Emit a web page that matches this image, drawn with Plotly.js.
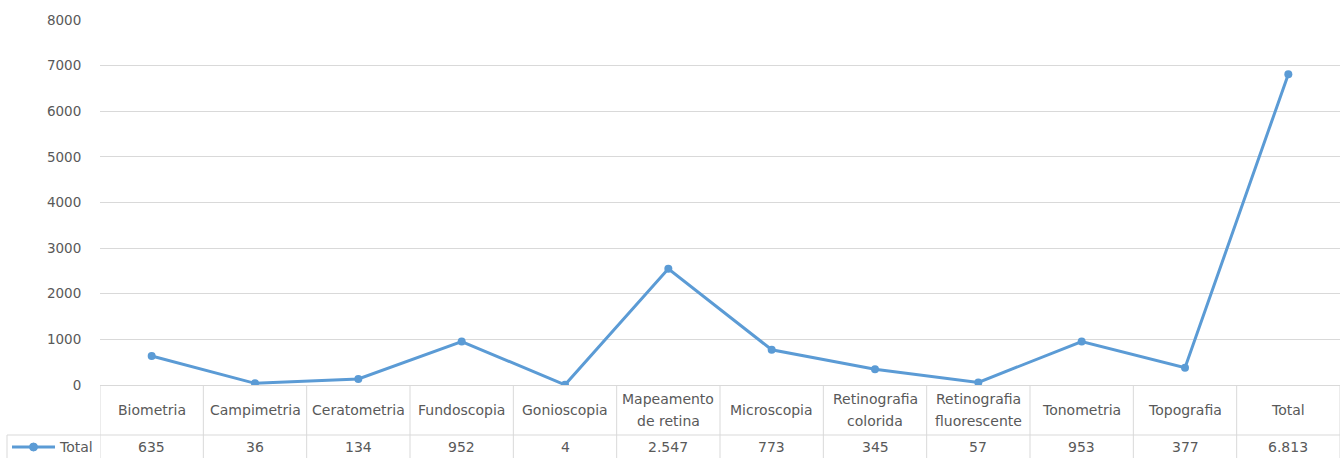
<!DOCTYPE html>
<html>
<head>
<meta charset="utf-8">
<script src="https://cdn.plot.ly/plotly-3.0.1.min.js"></script>
<style>html,body{margin:0;padding:0;background:#fff;}#chart{width:1341px;height:458px;}</style>
</head>
<body>
<div id="chart"></div>
<script>
const categories = ["Biometria","Campimetria","Ceratometria","Fundoscopia","Gonioscopia","Mapeamento de retina","Microscopia","Retinografia colorida","Retinografia fluorescente","Tonometria","Topografia","Total"];
const categoryLines = [["Biometria"],["Campimetria"],["Ceratometria"],["Fundoscopia"],["Gonioscopia"],["Mapeamento","de retina"],["Microscopia"],["Retinografia","colorida"],["Retinografia","fluorescente"],["Tonometria"],["Topografia"],["Total"]];
const totals = [635, 36, 134, 952, 4, 2547, 773, 345, 57, 953, 377, 6813];
const seriesName = "Total";
const yTicks = [0,1000,2000,3000,4000,5000,6000,7000,8000];

function fmt(v){ return String(v).replace(/\B(?=(\d{3})+(?!\d))/g, "."); }

const W = 1341, H = 458;
const mL = 100, mR = 1, mT = 20, mB = 73;
const plotW = W - mL - mR;
const plotH = H - mT - mB;
const py = px => -px / plotH;          // px below plot bottom -> paper y
const pxX = px => (px - mL) / plotW;   // absolute px -> paper x

const gray = "#595959";
const lineCol = "#d9d9d9";
const blue = "#5b9bd5";
const font = "DejaVu Sans, Verdana, sans-serif";
const fs = 14;

const shapes = [];
const n = categories.length;
for (let i = 0; i <= n; i++) {
  shapes.push({type:"line", xref:"x", yref:"paper", x0:i-0.5, x1:i-0.5, y0:0, y1:py(73), line:{color:lineCol,width:1}});
}
shapes.push({type:"line", xref:"paper", yref:"paper", x0:pxX(7), x1:1, y0:py(50), y1:py(50), line:{color:lineCol,width:1}});
shapes.push({type:"line", xref:"paper", yref:"paper", x0:pxX(7), x1:pxX(7), y0:py(50), y1:py(73), line:{color:lineCol,width:1}});
// legend key: line + marker
shapes.push({type:"line", xref:"paper", yref:"paper", x0:pxX(12), x1:pxX(55), y0:py(62), y1:py(62), line:{color:blue,width:3}});
shapes.push({type:"circle", xref:"paper", yref:"paper", xsizemode:"pixel", ysizemode:"pixel",
  xanchor:pxX(33.5), yanchor:py(62), x0:-4, x1:4, y0:-4, y1:4, fillcolor:blue, line:{color:blue,width:1}});

const annotations = [];
annotations.push({xref:"paper", yref:"paper", x:pxX(57), y:py(62), text:seriesName, showarrow:false,
  font:{family:font, size:fs, color:gray}, xanchor:"left", yanchor:"middle"});
categories.forEach((c, i) => {
  const lines = categoryLines[i];
  const offs = lines.length === 1 ? [25] : [14, 36];
  lines.forEach((t, k) => {
    annotations.push({x:c, xref:"x", yref:"paper", y:py(offs[k]), text:t, showarrow:false,
      font:{family:font, size:fs, color:gray}, xanchor:"center", yanchor:"middle"});
  });
  annotations.push({x:c, xref:"x", yref:"paper", y:py(62), text:fmt(totals[i]), showarrow:false,
    font:{family:font, size:fs, color:gray}, xanchor:"center", yanchor:"middle"});
});

const trace = {
  x: categories, y: totals, name: seriesName, type: "scatter", mode: "lines+markers",
  line: {color: blue, width: 3}, marker: {color: blue, size: 8}
};

const layout = {
  width: W, height: H,
  margin: {l: mL, r: mR, t: mT, b: mB, pad: 0},
  paper_bgcolor: "#fff", plot_bgcolor: "#fff",
  showlegend: false,
  xaxis: {type: "category", range: [-0.5, n - 0.5], showticklabels: false, showgrid: false,
    zeroline: false, showline: false, ticks: "", fixedrange: true, automargin: false},
  yaxis: {range: [0, 8000], tickvals: yTicks, ticktext: yTicks.map(String), showgrid: true,
    gridcolor: lineCol, gridwidth: 1, zeroline: true, zerolinecolor: lineCol, zerolinewidth: 1,
    showline: false, ticks: "outside", ticklen: 15, tickcolor: "rgba(0,0,0,0)",
    tickfont: {family: font, size: 13.5, color: gray}, fixedrange: true, automargin: false},
  shapes: shapes,
  annotations: annotations
};

Plotly.newPlot("chart", [trace], layout, {displayModeBar: false, staticPlot: true});
</script>
</body>
</html>
